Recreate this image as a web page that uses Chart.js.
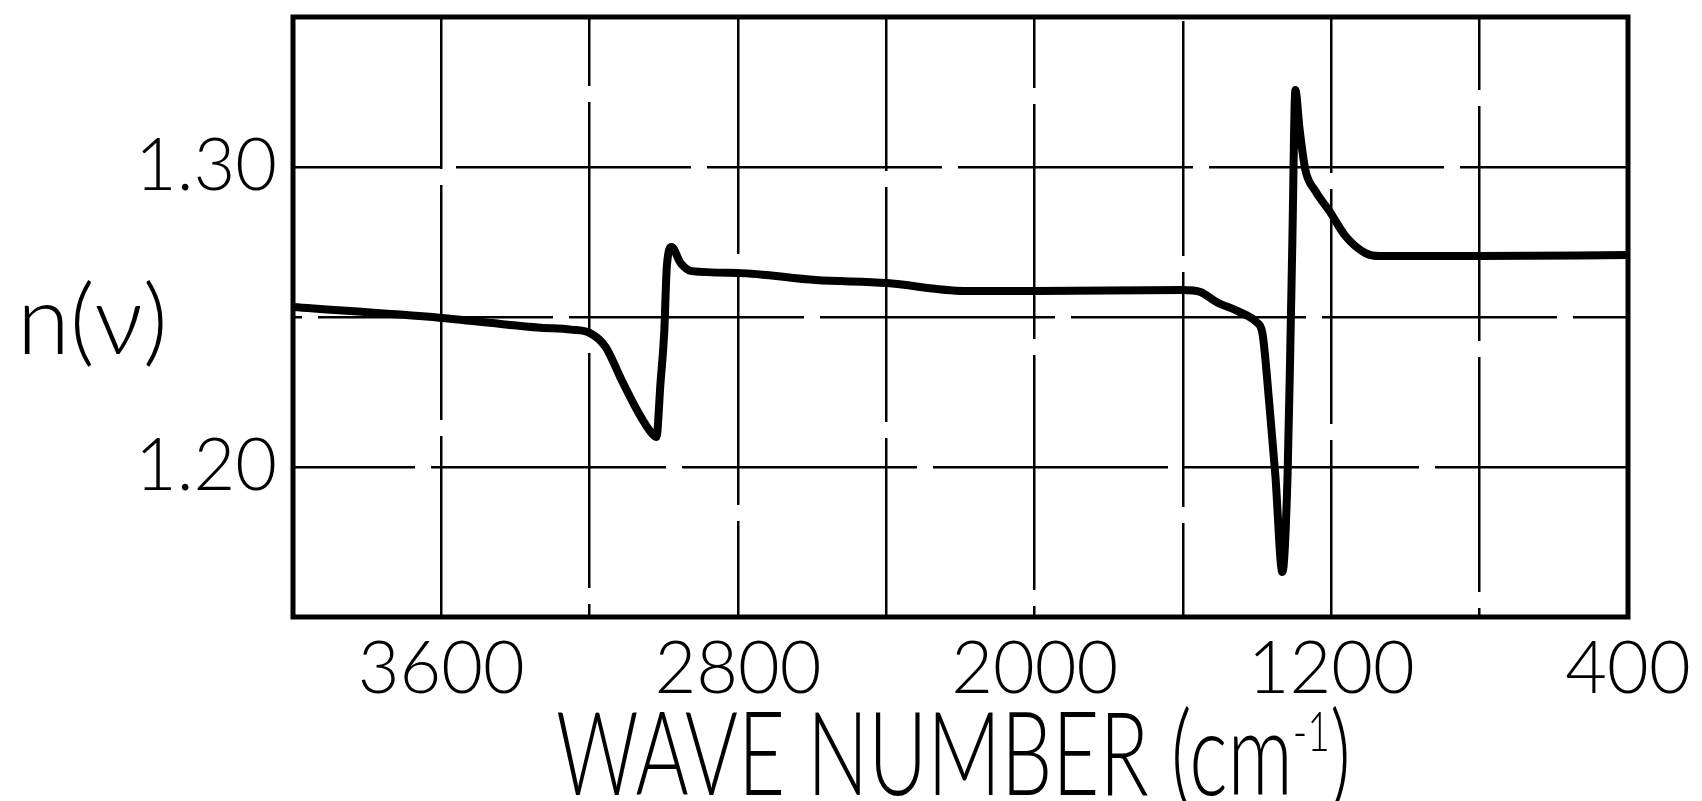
<!DOCTYPE html>
<html>
<head>
<meta charset="utf-8">
<script src="https://cdn.jsdelivr.net/npm/chart.js@4"></script>
<style>
  html, body { margin: 0; padding: 0; background: #fff; }
  #wrap { width: 1702px; height: 801px; }
</style>
</head>
<body>
<div id="wrap"><canvas id="myChart"></canvas></div>
<script>
// wave number (cm-1) and refractive index
const wavenumbers = [4000, 3600, 3340, 3250, 3200, 3157, 3114, 3068, 3033, 3020, 3009, 2999, 2992, 2979, 2955, 2925, 2800, 2590, 2400, 2190, 2000, 1600, 1553, 1510, 1448, 1402, 1386, 1367, 1351, 1332, 1318, 1310, 1305, 1297, 1286, 1270, 1243, 1205, 1162, 1108, 1070, 800, 400];
const refIndex = [1.2533, 1.2497, 1.2465, 1.2458, 1.2447, 1.2400, 1.2290, 1.2180, 1.2113, 1.2100, 1.2280, 1.2447, 1.2667, 1.2733, 1.2680, 1.2653, 1.2647, 1.2623, 1.2613, 1.2587, 1.2587, 1.2590, 1.2583, 1.2550, 1.2517, 1.2483, 1.2447, 1.2207, 1.1973, 1.1650, 1.1973, 1.2437, 1.2760, 1.3257, 1.3130, 1.2990, 1.2920, 1.2853, 1.2770, 1.2713, 1.2703, 1.2703, 1.2707];

const xTickLabels = [3600, 2800, 2000, 1200, 400];
const yTickLabels = ['1.20', '1.30'];
const xTitle = ['WAVE NUMBER (cm', '-1', ')'];
const yTitle = 'n(\u03BD)';

Chart.defaults.font.family = 'Lato';

// frame round the plot + the two hand-lettered axis titles
const framePlugin = {
    id: 'frame',
    afterDatasetsDraw(chart) {
        const {ctx, chartArea: a} = chart;
        ctx.save();
        ctx.strokeStyle = '#000';
        ctx.lineWidth = 5;
        ctx.strokeRect(a.left, a.top, a.right - a.left, a.bottom - a.top);
        ctx.restore();
    },
    afterDraw(chart) {
        const {ctx, chartArea: a} = chart;
        ctx.save();
        ctx.fillStyle = '#000';

        // y title, horizontal, left of the ticks
        ctx.font = '300 96px Lato';
        ctx.textBaseline = 'alphabetic';
        ctx.textAlign = 'left';
        ctx.fillText(yTitle, 17, 354);

        // x title, squeezed like the lettering guide
        const big = '300 116px Lato', small = '300 56px Lato';
        ctx.font = big;
        const w0 = ctx.measureText(xTitle[0]).width;
        const w2 = ctx.measureText(xTitle[2]).width;
        ctx.font = small;
        const w1 = ctx.measureText(xTitle[1]).width;
        const total = w0 + w1 + w2;
        const sx = 795 / total;
        const cx = (a.left + a.right) / 2 - 7;
        ctx.translate(cx - 795 / 2, 795);
        ctx.scale(sx, 1);
        ctx.font = big;
        ctx.fillText(xTitle[0], 0, 0);
        ctx.font = small;
        ctx.fillText(xTitle[1], w0, -44);
        ctx.font = big;
        ctx.fillText(xTitle[2], w0 + w1, 0);
        ctx.restore();
    }
};

const ctxEl = document.getElementById('myChart').getContext('2d');
new Chart(ctxEl, {
    type: 'line',
    data: {
        datasets: [{
            data: wavenumbers.map((v, i) => ({x: v, y: refIndex[i]})),
            borderColor: '#000',
            borderWidth: 8,
            pointRadius: 0,
            cubicInterpolationMode: 'monotone',
            fill: false
        }]
    },
    options: {
        responsive: true,
        maintainAspectRatio: false,
        animation: false,
        layout: {padding: {left: 0, top: 17, right: 74, bottom: 0}},
        plugins: {
            legend: {display: false},
            tooltip: {enabled: false}
        },
        scales: {
            x: {
                type: 'linear',
                reverse: true,
                min: 400,
                max: 4000,
                afterFit: (s) => { s.height = 184; s.paddingLeft = 0; s.paddingRight = 0; },
                ticks: {
                    stepSize: 400,
                    autoSkip: false,
                    maxRotation: 0,
                    padding: 17,
                    color: '#000',
                    font: {size: 72, weight: 300, lineHeight: 1},
                    callback: (v) => xTickLabels.includes(v) ? String(v) : ''
                },
                grid: {color: '#000', lineWidth: 2.5, drawTicks: false},
                border: {display: false, dash: [235, 16], dashOffset: (c) => (c.index * 83) % 251}
            },
            y: {
                min: 1.15,
                max: 1.35,
                afterFit: (s) => { s.width = 293; s.paddingTop = 0; s.paddingBottom = 0; },
                ticks: {
                    stepSize: 0.05,
                    autoSkip: false,
                    padding: 16,
                    color: '#000',
                    font: {size: 72, weight: 300, lineHeight: 1},
                    callback: (v) => {
                        const s = v.toFixed(2);
                        return yTickLabels.includes(s) ? s : '';
                    }
                },
                grid: {color: '#000', lineWidth: 2.5, drawTicks: false},
                border: {display: false, dash: [235, 16], dashOffset: (c) => (c.index * 113) % 251}
            }
        }
    },
    plugins: [framePlugin]
});
</script>
</body>
</html>
